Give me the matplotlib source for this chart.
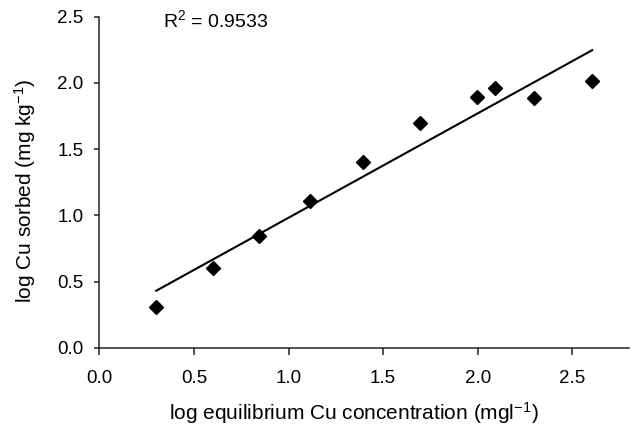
import numpy as np
import matplotlib
matplotlib.use("Agg")
import matplotlib.pyplot as plt

# Font setup: Helvetica-like look
plt.rcParams['font.family'] = ['Liberation Sans', 'DejaVu Sans']
plt.rcParams['mathtext.fontset'] = 'custom'
plt.rcParams['mathtext.rm'] = 'Liberation Sans'
plt.rcParams['mathtext.it'] = 'Liberation Sans:italic'

# Data
log_conc = [0.30, 0.60, 0.845, 1.115, 1.395, 1.695, 1.995, 2.09, 2.30, 2.605]
log_sorbed = [0.31, 0.60, 0.846, 1.106, 1.40, 1.695, 1.896, 1.961, 1.886, 2.012]
r_squared_text = "0.9533"
x_ticks = [0.0, 0.5, 1.0, 1.5, 2.0, 2.5]
y_ticks = [0.0, 0.5, 1.0, 1.5, 2.0, 2.5]

fig = plt.figure(figsize=(6.32, 4.28), dpi=100)
ax = fig.add_axes([0.1574, 0.1876, 0.9953 - 0.1574, 0.961 - 0.1876])

# Linear trendline through the points
slope, intercept = np.polyfit(log_conc, log_sorbed, 1)
xs = np.array([min(log_conc), max(log_conc)])
ax.plot(xs, slope * xs + intercept, color='black', linewidth=1.5, zorder=2)

# Diamond markers
ax.plot(log_conc, log_sorbed, linestyle='none', marker='D', markersize=7.6,
        color='black', zorder=3)

ax.text(0.336, 2.475, r"R$^{2}$ = " + r_squared_text, fontsize=14,
        ha='left', va='center')

ax.set_xlim(0, 2.8)
ax.set_ylim(0, 2.5)
ax.set_xticks(x_ticks)
ax.set_yticks(y_ticks)
ax.set_xticklabels([f"{t:.1f}" for t in x_ticks])
ax.set_yticklabels([f"{t:.1f}" for t in y_ticks])

for side in ['top', 'right']:
    ax.spines[side].set_visible(False)
for side in ['left', 'bottom']:
    ax.spines[side].set_linewidth(1.1)
    ax.spines[side].set_color('#222222')

ax.tick_params(axis='x', direction='out', length=5, width=1.1, pad=11,
               labelsize=13.5, colors='#222222', labelcolor='black')
ax.tick_params(axis='y', direction='out', length=3.5, width=1.1, pad=8,
               labelsize=13.5, colors='#222222', labelcolor='black')

fig.text(353.5 / 632, 1 - 413 / 428, r"log equilibrium Cu concentration (mgl$^{-1}$)",
         fontsize=15, ha='center', va='center')
fig.text(25 / 632, 1 - 191 / 428, r"log Cu sorbed (mg kg$^{-1}$)",
         fontsize=15, ha='center', va='center', rotation=90)

fig.savefig("out.png", dpi=100)
